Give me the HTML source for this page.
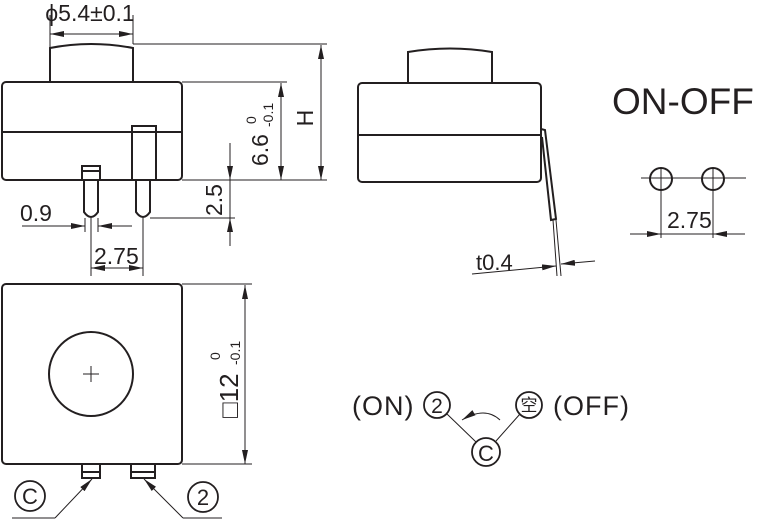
<!DOCTYPE html>
<html><head><meta charset="utf-8"><style>
html,body{margin:0;padding:0;background:#fff;}
svg{display:block;}
text{font-family:"Liberation Sans","Noto Sans CJK SC",sans-serif;fill:#231f20;}
</style></head><body>
<svg width="760" height="519" viewBox="0 0 760 519" xmlns="http://www.w3.org/2000/svg">
<defs>
<marker id="a" viewBox="0 0 14 6" refX="14" refY="3" markerWidth="14" markerHeight="6" markerUnits="userSpaceOnUse" orient="auto"><path d="M0,0 L14,3 L0,6 Z" fill="#231f20"/></marker>
</defs>
<g fill="none" stroke="#231f20" stroke-width="2">
<path d="M50,82 V48 Q91,40 133,48 V82"/>
<rect x="2" y="82" width="180" height="98" rx="4"/>
<line x1="2" y1="132" x2="182" y2="132"/>
<path d="M132,180 V126 H156 V180"/>
<path d="M136,180 V212 Q143,222 150,212 V180"/>
<path d="M82,180 V166 H100 V180"/><line x1="82" y1="171" x2="100" y2="171"/>
<path d="M84,180 V212 Q91,222 98,212 V180"/>
<path d="M408,83 V52 Q450,45 492,52 V83"/>
<rect x="358" y="83" width="183" height="99" rx="4"/>
<line x1="358" y1="135" x2="541" y2="135"/>
<path d="M541,129 L545,130 L556,219 L551,220 L542,137"/>
<rect x="2" y="284" width="180" height="180" rx="4"/>
<circle cx="91" cy="374" r="42"/>
<path d="M82,464 V478 H100 V464 M82,472 H100 M131,464 V478 H155 V464 M131,472 H155"/>
</g>
<g fill="none" stroke="#231f20" stroke-width="1">
<path d="M83,374 H99 M91,366 V382"/>
<path d="M50,15 V82 M133,15 V44"/>
<line x1="72" y1="34" x2="50" y2="34" marker-end="url(#a)"/>
<line x1="110" y1="34" x2="133" y2="34" marker-end="url(#a)"/>
<line x1="72" y1="34" x2="110" y2="34"/>
<path d="M133,44 H327 M182,82 H287 M182,180 H327 M150,218 H235"/>
<line x1="321" y1="112" x2="321" y2="45" marker-end="url(#a)"/>
<line x1="321" y1="112" x2="321" y2="180" marker-end="url(#a)"/>
<line x1="281" y1="130" x2="281" y2="83" marker-end="url(#a)"/>
<line x1="281" y1="130" x2="281" y2="180" marker-end="url(#a)"/>
<line x1="230" y1="143" x2="230" y2="180" marker-end="url(#a)"/>
<line x1="230" y1="180" x2="230" y2="218"/>
<line x1="230" y1="246" x2="230" y2="218" marker-end="url(#a)"/>
<line x1="22" y1="226" x2="85" y2="226" marker-end="url(#a)"/>
<line x1="132" y1="226" x2="98" y2="226" marker-end="url(#a)"/>
<path d="M85,218 V232 M98,218 V232 M91,218 V276 M143,218 V276"/>
<line x1="117" y1="268" x2="91" y2="268" marker-end="url(#a)"/>
<line x1="117" y1="268" x2="143" y2="268" marker-end="url(#a)"/>
<path d="M553,220 L557,276 M556,220 L561,276"/>
<line x1="472" y1="274" x2="556" y2="266" marker-end="url(#a)"/>
<line x1="595" y1="261" x2="561" y2="264" marker-end="url(#a)"/>
<circle cx="661" cy="179" r="11" stroke-width="2"/>
<circle cx="713" cy="179" r="11" stroke-width="2"/>
<path d="M641,178 H746 M661,168 V238 M713,168 V238"/>
<line x1="630" y1="234" x2="661" y2="234" marker-end="url(#a)"/>
<line x1="745" y1="234" x2="713" y2="234" marker-end="url(#a)"/>
<line x1="661" y1="234" x2="713" y2="234"/>
<path d="M182,284 H252 M182,464 H252"/>
<line x1="245" y1="374" x2="245" y2="285" marker-end="url(#a)"/>
<line x1="245" y1="374" x2="245" y2="464" marker-end="url(#a)"/>
<path d="M12,518 H55"/>
<line x1="55" y1="518" x2="92" y2="479" marker-end="url(#a)"/>
<path d="M222,518 H183"/>
<line x1="183" y1="518" x2="144" y2="479" marker-end="url(#a)"/>
<circle cx="30" cy="496" r="15" stroke-width="1.8"/>
<circle cx="203" cy="497" r="15" stroke-width="1.8"/>
<circle cx="437" cy="405" r="13" stroke-width="1.8"/>
<circle cx="529" cy="405" r="13" stroke-width="1.8"/>
<circle cx="486" cy="452" r="14" stroke-width="1.8"/>
<path d="M447,414 L476,442 M520,414 L496,441"/>
<path d="M500,420 Q485,406 462,420" marker-end="url(#a)"/>
</g>
<text x="90" y="21" font-size="23" text-anchor="middle">ϕ5.4±0.1</text>
<text x="20" y="221" font-size="23">0.9</text>
<text x="94" y="264" font-size="23">2.75</text>
<text x="667" y="228" font-size="23">2.75</text>
<text x="476" y="270" font-size="22">t0.4</text>
<text x="612" y="114" font-size="37">ON-OFF</text>
<text font-size="23" transform="translate(313,118) rotate(-90)" text-anchor="middle">H</text>
<text font-size="23" transform="translate(268,166) rotate(-90)">6.6</text>
<text font-size="14" transform="translate(256,124) rotate(-90)">0</text>
<text font-size="14" transform="translate(273,127) rotate(-90)">-0.1</text>
<text font-size="23" transform="translate(222,216) rotate(-90)">2.5</text>
<text font-size="26" transform="translate(238,418) rotate(-90)">□12</text>
<text font-size="14" transform="translate(220,360) rotate(-90)">0</text>
<text font-size="14" transform="translate(240,365) rotate(-90)">-0.1</text>
<text x="30" y="504" font-size="22" text-anchor="middle">C</text>
<text x="203" y="505" font-size="22" text-anchor="middle">2</text>
<text x="352" y="415" font-size="27" letter-spacing="1">(ON)</text>
<text x="437" y="413" font-size="21" text-anchor="middle">2</text>
<text x="529" y="411" font-size="17" text-anchor="middle">空</text>
<text x="553" y="415" font-size="27" letter-spacing="1">(OFF)</text>
<text x="486" y="461" font-size="22" text-anchor="middle">C</text>
</svg>
</body></html>
